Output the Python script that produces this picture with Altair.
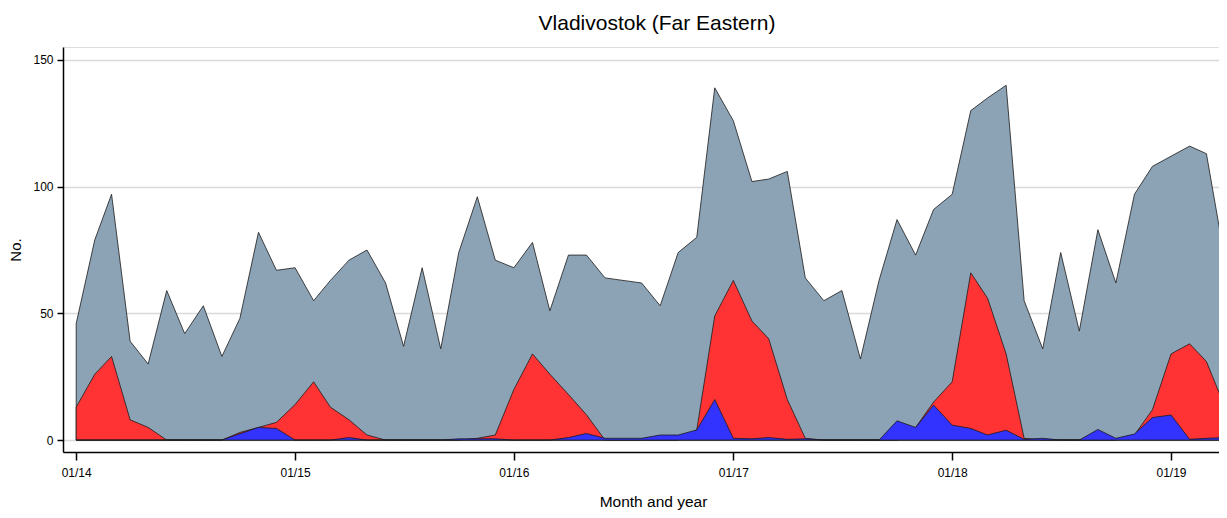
import altair as alt
import pandas as pd

# Monthly values, Jan 2014 .. Apr 2019
months = pd.date_range("2014-01-01", periods=64, freq="MS").strftime("%Y-%m-%dT00:00:00").tolist()

total = [46, 79, 97, 39, 30, 59, 42, 53, 33, 48, 82, 67,
         68, 55, 63, 71, 75, 62, 37, 68, 36, 74, 96, 71,
         68, 78, 51, 73, 73, 64, 63, 62, 53, 74, 80, 139,
         126, 102, 103, 106, 64, 55, 59, 32, 63, 87, 73, 91,
         97, 130, 135, 140, 55, 36, 74, 43, 83, 62, 97, 108,
         112, 116, 113, 71]

red = [13, 26, 33, 8, 5, 0, 0, 0, 0, 3, 5, 7,
       14, 23, 13, 8, 2, 0, 0, 0, 0, 0, 0.7, 2,
       20, 34, 26, 18, 10, 0, 0, 0, 0, 0, 4, 49,
       63, 47, 40, 16, 0.7, 0, 0, 0, 0, 0, 5, 15,
       23, 66, 56, 34, 0.7, 0, 0, 0, 0, 0, 2, 12,
       34, 38, 31, 13]

blue = [0, 0, 0, 0, 0, 0, 0, 0, 0, 2.5, 5, 4.6,
        0, 0, 0, 1, 0, 0, 0, 0, 0, 0.5, 0.5, 0.5,
        0, 0, 0, 1, 2.6, 0.7, 0.7, 0.7, 2, 2, 4, 16,
        0.7, 0.5, 1, 0.3, 0.5, 0, 0, 0, 0, 7.6, 5, 13.8,
        5.9, 4.6, 2, 3.9, 0.3, 0.7, 0, 0, 4.2, 0.7, 2.4, 8.9,
        9.9, 0.3, 0.7, 1]

tick_years = [2014, 2015, 2016, 2017, 2018, 2019]

df = pd.DataFrame({"date": months, "total": total, "red": red, "blue": blue})

FONT = "Liberation Sans"

x_enc = alt.X(
    "date:T",
    scale=alt.Scale(domain=[alt.DateTime(year=2013, month=12, date=10),
                            alt.DateTime(year=2019, month=3, date=22)]),
    axis=alt.Axis(
        values=[alt.DateTime(year=y, month=1, date=1) for y in tick_years],
        format="%m/%y", title="Month and year", grid=False,
        domainColor="black", domainWidth=1.5, tickColor="black", tickWidth=1.5,
        tickSize=8, labelFont=FONT, labelFontSize=12, labelColor="black",
        labelPadding=7, titleFont=FONT, titleFontSize=15.5, titleFontWeight="normal",
        titleColor="black", titlePadding=16, titleX=590,
    ),
)

y_axis = alt.Axis(
    values=[0, 50, 100, 150], title="No.", grid=True, gridColor="#d9d9d9", gridWidth=1.5,
    domainColor="black", domainWidth=1.5, tickColor="black", tickWidth=1.5, tickSize=6,
    labelFont=FONT, labelFontSize=12, labelColor="black", labelPadding=4,
    titleFont=FONT, titleFontSize=15, titleFontWeight="normal", titleColor="black",
    titlePadding=9,
)
y_scale = alt.Scale(domain=[-4.7, 155.1], nice=False, zero=False)

base = alt.Chart(df)

grey_area = base.mark_area(color="#8ca2b5", stroke="#1a1a1a", strokeWidth=0.8).encode(
    x=x_enc, y=alt.Y("total:Q", scale=y_scale, axis=y_axis), y2=alt.datum(0)
)
red_area = base.mark_area(color="#ff3333", stroke="#1a1a1a", strokeWidth=0.8).encode(
    x="date:T", y="red:Q", y2=alt.datum(0)
)
blue_area = base.mark_area(color="#3333ff", stroke="#1a1a1a", strokeWidth=0.8).encode(
    x="date:T", y="blue:Q", y2=alt.datum(0)
)

chart = alt.layer(grey_area, red_area, blue_area).properties(
    width=1156, height=405,
    title=alt.TitleParams("Vladivostok (Far Eastern)", font=FONT, fontSize=21,
                          fontWeight="normal", color="black", dx=16, offset=13),
    autosize=alt.AutoSizeParams(type="none"),
    padding={"left": 55, "top": 39, "right": 0, "bottom": 58},
).configure_view(stroke=None).configure(background="white")

chart.save("out.html", embed_options={"renderer": "svg", "actions": False})
